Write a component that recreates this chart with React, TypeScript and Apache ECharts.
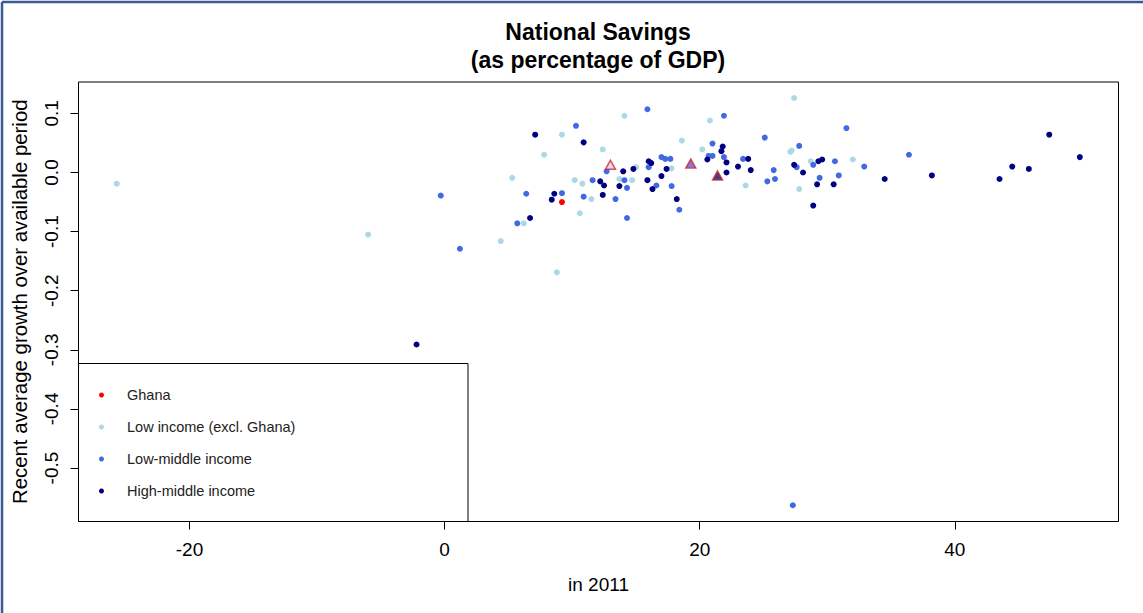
import React, { useEffect, useRef } from "react";
import * as echarts from "echarts";

// ---- data (x: national savings % of GDP in 2011, y: recent average growth) ----
const ghana: [number, number][] = [[9.2, -0.05]];

const lowIncome: [number, number][] = [
  [-25.7, -0.019], [-6.0, -0.105], [4.4, -0.116], [5.3, -0.009], [6.2, -0.086],
  [7.8, 0.03], [8.8, -0.169], [9.2, 0.064], [10.2, -0.013], [10.8, -0.019],
  [10.6, -0.069], [11.5, -0.045], [12.4, 0.039], [14.1, 0.096], [13.7, -0.011],
  [14.7, -0.013], [15.0, 0.009], [17.8, 0.007], [18.6, 0.054], [20.2, 0.039],
  [20.8, 0.088], [23.6, -0.022], [27.1, 0.035], [27.2, 0.037], [27.4, 0.126],
  [27.8, -0.028], [28.7, 0.019], [32.0, 0.022],
];

const lowMiddle: [number, number][] = [
  [-0.3, -0.039], [1.2, -0.129], [5.7, -0.086], [6.4, -0.036], [9.2, -0.035],
  [10.3, 0.079], [10.9, -0.041], [11.6, -0.013], [12.7, 0.002], [13.4, -0.045],
  [14.1, -0.013], [14.3, -0.026], [14.3, -0.077], [15.9, 0.107], [16.0, 0.009],
  [16.6, -0.022], [17.0, 0.026], [17.3, 0.023], [17.7, 0.023], [17.8, -0.023],
  [18.4, -0.063], [20.7, 0.028], [21.0, 0.028], [21.0, 0.049], [21.9, 0.096],
  [21.9, 0.026], [23.4, 0.023], [25.1, 0.059], [25.3, -0.015], [25.8, 0.004],
  [25.9, -0.011], [27.6, 0.009], [27.8, 0.045], [28.9, 0.013], [29.4, -0.009],
  [30.6, 0.019], [30.9, -0.005], [31.5, 0.075], [32.9, 0.01], [36.4, 0.03],
  [27.3, -0.563],
];

const highMiddle: [number, number][] = [
  [-2.2, -0.291], [6.7, -0.077], [7.1, 0.064], [8.4, -0.046], [8.6, -0.036],
  [10.9, 0.051], [12.2, -0.015], [12.5, -0.022], [12.4, -0.038], [13.7, -0.023],
  [14.0, 0.002], [14.8, 0.006], [15.9, -0.013], [16.0, 0.019], [16.2, 0.016],
  [16.3, -0.028], [17.0, -0.006], [17.4, 0.006], [18.2, -0.045], [20.6, 0.022],
  [21.7, 0.036], [21.8, 0.044], [22.1, 0.017], [22.1, 0.0], [23.0, 0.01],
  [23.8, 0.023], [24.0, 0.004], [27.4, 0.013], [28.1, 0.0], [29.3, 0.019],
  [29.6, 0.022], [29.2, -0.02], [30.5, -0.02], [28.9, -0.056], [34.5, -0.011],
  [38.2, -0.005], [43.5, -0.011], [44.5, 0.01], [45.8, 0.006], [47.4, 0.064],
  [49.8, 0.026],
];

// group averages (triangles): low income, low-middle, high-middle
const groupMeans: [number, number][] = [[13.0, 0.013], [19.3, 0.015], [21.4, -0.005]];
const groupMeanFill = ["#e3d0dc", "#6a5cc0", "#1c0c62"];

const seriesNames = ["Ghana", "Low income (excl. Ghana)", "Low-middle income", "High-middle income"];
const seriesColors = ["#ff0000", "#add8e6", "#4169e1", "#000080"];

const xTicks = [-20, 0, 20, 40];
const yTicks = [-0.5, -0.4, -0.3, -0.2, -0.1, 0.0, 0.1];
const xRange: [number, number] = [-28.7, 52.83];
const yRange: [number, number] = [-0.5905, 0.1531];

const FONT = "'Liberation Sans', Arial, sans-serif";

export default function App() {
  const ref = useRef<HTMLDivElement>(null);

  useEffect(() => {
    if (!ref.current) return;
    const chart = echarts.init(ref.current, undefined, { renderer: "svg" });
    const groups = [ghana, lowIncome, lowMiddle, highMiddle];

    chart.setOption({
      animation: false,
      backgroundColor: "#ffffff",
      title: {
        text: "National Savings\n(as percentage of GDP)",
        left: 598,
        top: 18,
        padding: 0,
        textAlign: "center",
        textStyle: {
          fontFamily: FONT,
          fontSize: 23,
          fontWeight: "bold",
          lineHeight: 28,
          color: "#000",
        },
      },
      grid: {
        left: 78.5,
        right: 24.5,
        top: 82,
        bottom: 91.5,
        show: true,
        borderColor: "#000",
        borderWidth: 1,
        backgroundColor: "transparent",
      },
      legend: {
        data: seriesNames,
        orient: "vertical",
        left: 99,
        top: 387,
        padding: 0,
        itemWidth: 5,
        itemHeight: 5,
        itemGap: 16,
        selectedMode: false,
        textStyle: {
          fontFamily: FONT,
          fontSize: 14.5,
          lineHeight: 16,
          color: "#222",
          padding: [0, 0, 0, 18],
        },
      },
      xAxis: {
        type: "value",
        min: xRange[0],
        max: xRange[1],
        splitLine: { show: false },
        axisLine: { show: false, onZero: false },
        axisTick: {
          show: true,
          length: 8,
          customValues: xTicks,
          lineStyle: { color: "#000" },
        },
        axisLabel: {
          customValues: xTicks,
          fontFamily: FONT,
          fontSize: 19,
          color: "#000",
          margin: 18,
          formatter: (v: number) => String(v),
        },
        name: "in 2011",
        nameLocation: "middle",
        nameGap: 53,
        nameTextStyle: { fontFamily: FONT, fontSize: 19, color: "#000" },
      },
      yAxis: {
        type: "value",
        min: yRange[0],
        max: yRange[1],
        splitLine: { show: false },
        axisLine: { show: false, onZero: false },
        axisTick: {
          show: true,
          length: 8,
          customValues: yTicks,
          lineStyle: { color: "#000" },
        },
        axisLabel: {
          customValues: yTicks,
          rotate: 90,
          fontFamily: FONT,
          fontSize: 19,
          color: "#000",
          margin: 18,
          formatter: (v: number) => (Math.abs(v) < 1e-9 ? "0.0" : v.toFixed(1)),
        },
        name: "Recent average growth over available period",
        nameLocation: "middle",
        nameGap: 49,
        nameTextStyle: { fontFamily: FONT, fontSize: 20.4, color: "#000" },
      },
      graphic: [
        {
          type: "rect",
          shape: { x: 78.5, y: 363.5, width: 389.5, height: 158 },
          style: { fill: "#fff", stroke: "#000", lineWidth: 1 },
          z: 0,
          silent: true,
        },
        {
          type: "line",
          shape: { x1: 2, y1: 2, x2: 1143, y2: 2 },
          style: { stroke: "#3b5a96", lineWidth: 2.5 },
          silent: true,
        },
        {
          type: "line",
          shape: { x1: 2, y1: 2, x2: 2, y2: 613 },
          style: { stroke: "#3b5a96", lineWidth: 2.5 },
          silent: true,
        },
      ],
      series: [
        ...groups.map((g, i) => ({
          name: seriesNames[i],
          type: "scatter",
          data: g,
          symbol: "circle",
          symbolSize: 6,
          itemStyle: { color: seriesColors[i], opacity: 1 },
          z: 3,
        })),
        {
          name: "Group averages",
          type: "scatter",
          symbol: "triangle",
          symbolSize: [10, 9],
          data: groupMeans.map((p, i) => ({
            value: p,
            itemStyle: { color: groupMeanFill[i] },
          })),
          itemStyle: { borderColor: "#c8283c", borderWidth: 1.5 },
          z: 4,
        },
      ],
    });

    return () => chart.dispose();
  }, []);

  return (
    <div
      ref={ref}
      style={{ position: "fixed", left: 0, top: 0, width: 1143, height: 613 }}
    />
  );
}
